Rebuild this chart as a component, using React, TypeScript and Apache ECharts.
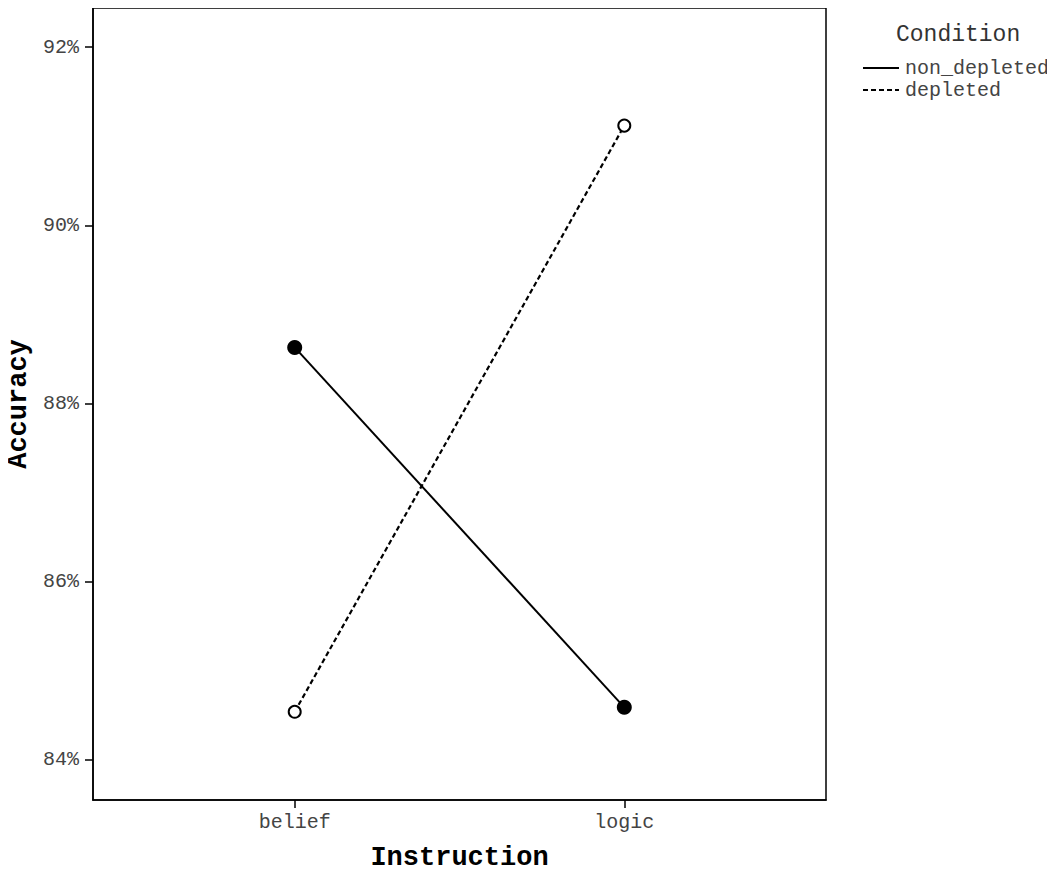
import React, { useEffect, useRef } from "react";
import * as echarts from "echarts";

const categories = ["belief", "logic"];
const nonDepleted = [88.63, 84.59];
const depleted = [84.54, 91.12];
const yTicks = [84, 86, 88, 90, 92];
const seriesNames = ["non_depleted", "depleted"];

const FONT = "'Liberation Mono', 'Courier New', monospace";

export default function App() {
  const ref = useRef<HTMLDivElement>(null);
  useEffect(() => {
    const chart = echarts.init(ref.current!, null, { renderer: "svg" });
    const toData = (vals: number[]) => vals.map((v, i) => [i, v]);
    chart.setOption({
      animation: false,
      backgroundColor: "#fff",
      title: {
        text: "Condition",
        left: 891,
        top: 18,
        textStyle: { fontFamily: FONT, fontSize: 23, fontWeight: "normal", color: "#333" },
      },
      legend: {
        orient: "vertical",
        left: 857,
        top: 53,
        itemWidth: 36,
        itemHeight: 20,
        itemGap: 2,
        data: seriesNames,
        itemStyle: { opacity: 0 },
        textStyle: { fontFamily: FONT, fontSize: 20, color: "#444", padding: [0, 0, 0, 1] },
      },
      grid: {
        left: 93,
        top: 8,
        right: 229,
        bottom: 86,
        outerBoundsMode: "none",
        containLabel: false,
        show: true,
        borderColor: "#000",
        borderWidth: 1.5,
      },
      xAxis: {
        type: "value",
        min: -0.612,
        max: 1.612,
        splitLine: { show: false },
        axisLine: { show: true, onZero: false, lineStyle: { color: "#000", width: 1.5 } },
        axisTick: { show: true, customValues: [0, 1], length: 8, lineStyle: { color: "#000", width: 1.5 } },
        axisLabel: {
          customValues: [0, 1],
          formatter: (v: number) => categories[Math.round(v)] ?? "",
          fontFamily: FONT,
          fontSize: 20,
          color: "#444",
          margin: 12,
        },
        name: "Instruction",
        nameLocation: "middle",
        nameGap: 44,
        nameTextStyle: { fontFamily: FONT, fontSize: 27, fontWeight: "bold", color: "#000" },
      },
      yAxis: {
        type: "value",
        min: 83.55,
        max: 92.44,
        splitLine: { show: false },
        axisLine: { show: true, onZero: false, lineStyle: { color: "#000", width: 1.5 } },
        axisTick: { show: true, customValues: yTicks, length: 8, lineStyle: { color: "#000", width: 1.5 } },
        axisLabel: {
          customValues: yTicks,
          formatter: (v: number) => `${Math.round(v)}%`,
          fontFamily: FONT,
          fontSize: 20,
          color: "#444",
          margin: 14,
        },
        name: "Accuracy",
        nameLocation: "middle",
        nameGap: 59,
        nameTextStyle: { fontFamily: FONT, fontSize: 27, fontWeight: "bold", color: "#000" },
      },
      series: [
        {
          name: seriesNames[0],
          type: "line",
          data: toData(nonDepleted),
          symbol: "circle",
          symbolSize: 15,
          itemStyle: { color: "#000" },
          lineStyle: { color: "#000", width: 2, type: "solid" },
        },
        {
          name: seriesNames[1],
          type: "line",
          data: toData(depleted),
          symbol: "circle",
          symbolSize: 12,
          itemStyle: { color: "#fff", borderColor: "#000", borderWidth: 2 },
          lineStyle: { color: "#000", width: 2.2, type: [5, 3] },
        },
      ],
    });
    return () => chart.dispose();
  }, []);
  return <div ref={ref} style={{ width: 1055, height: 886, margin: -8 }} />;
}
